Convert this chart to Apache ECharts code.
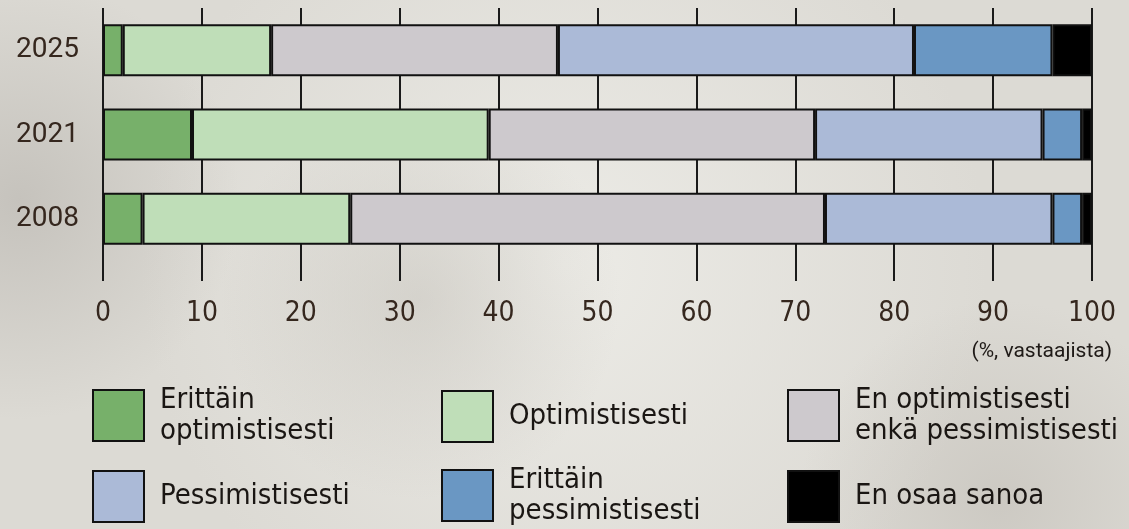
<!DOCTYPE html>
<html>
<head>
<meta charset="utf-8">
<script src="https://cdn.jsdelivr.net/npm/echarts@6/dist/echarts.min.js"></script>
<style>
html,body{margin:0;padding:0;background:#e6e4df;}
#chart{width:1129px;height:529px;}
</style>
</head>
<body>
<div id="chart"></div>
<script>
const years = ['2025', '2021', '2008'];
const seriesNames = ['Erittäin optimistisesti', 'Optimistisesti', 'En optimistisesti enkä pessimistisesti', 'Pessimistisesti', 'Erittäin pessimistisesti', 'En osaa sanoa'];
const legendLabels = ['Erittäin\noptimistisesti', 'Optimistisesti', 'En optimistisesti\nenkä pessimistisesti', 'Pessimistisesti', 'Erittäin\npessimistisesti', 'En osaa sanoa'];
const veryOptimistic = [2, 9, 4];
const optimistic = [15, 30, 21];
const neutral = [29, 33, 48];
const pessimistic = [36, 23, 23];
const veryPessimistic = [14, 4, 3];
const dontKnow = [4, 1, 1];
const xTicks = [0, 10, 20, 30, 40, 50, 60, 70, 80, 90, 100];
const colors = ['#77b06a', '#bfdeb8', '#cdc9cd', '#abbad7', '#6a97c3', '#000000'];

const values = [veryOptimistic, optimistic, neutral, pessimistic, veryPessimistic, dontKnow];
const textColor = '#35271e';
const condensed = "'DejaVu Sans Condensed', 'Liberation Sans Narrow', Roboto, sans-serif";

const chart = echarts.init(document.getElementById('chart'));

const series = seriesNames.map((n, i) => ({
  name: n,
  type: 'bar',
  stack: 'total',
  barWidth: 52,
  data: values[i],
  itemStyle: { color: colors[i], borderColor: '#111', borderWidth: 2 },
  emphasis: { disabled: true }
}));

const lineH = 31;
const legendCol = [92, 441, 787];
const legendRowCenter = [415.5, 495.5];
const legends = seriesNames.map((n, i) => {
  const lines = legendLabels[i].split('\n').length;
  const h = Math.max(51, lines * lineH);
  return {
    data: [n],
    left: legendCol[i % 3],
    top: legendRowCenter[Math.floor(i / 3)] - h / 2,
    itemWidth: 51,
    itemHeight: 51,
    itemGap: 0,
    icon: 'rect',
    selectedMode: false,
    padding: 0,
    formatter: () => legendLabels[i],
    textStyle: { color: '#1a1613', fontSize: 29, lineHeight: lineH, fontFamily: condensed, padding: [0, 0, 0, 11] }
  };
});

chart.setOption({
  backgroundColor: 'transparent',
  animation: false,
  graphic: [
    { type: 'rect', z: -10, shape: { x: 0, y: 0, width: 1129, height: 529 }, style: { fill: {
      type: 'radial', x: 0.5, y: 0.5, r: 0.8,
      colorStops: [{ offset: 0, color: '#ecebe6' }, { offset: 1, color: '#dcdad4' }] } }, silent: true },
    { type: 'circle', z: -9, shape: { cx: 20, cy: 200, r: 220 }, style: { fill: {
      type: 'radial', x: 0.5, y: 0.5, r: 0.5,
      colorStops: [{ offset: 0, color: 'rgba(170,166,160,0.45)' }, { offset: 1, color: 'rgba(170,166,160,0)' }] } }, silent: true },
    { type: 'circle', z: -9, shape: { cx: 420, cy: 300, r: 200 }, style: { fill: {
      type: 'radial', x: 0.5, y: 0.5, r: 0.5,
      colorStops: [{ offset: 0, color: 'rgba(180,176,168,0.35)' }, { offset: 1, color: 'rgba(180,176,168,0)' }] } }, silent: true },
    { type: 'circle', z: -9, shape: { cx: 1000, cy: 500, r: 200 }, style: { fill: {
      type: 'radial', x: 0.5, y: 0.5, r: 0.5,
      colorStops: [{ offset: 0, color: 'rgba(175,170,162,0.35)' }, { offset: 1, color: 'rgba(175,170,162,0)' }] } }, silent: true },
    { type: 'text', right: 17, top: 341, style: { text: '(%, vastaajista)', fill: '#1f1a17', fontSize: 21, fontFamily: 'Roboto, sans-serif' } }
  ],
  legend: legends,
  grid: { left: 103, right: 37, top: 8, bottom: 268, containLabel: false },
  xAxis: {
    type: 'value', min: 0, max: 100, interval: 10,
    axisLine: { show: false },
    axisTick: { show: true, length: 20, lineStyle: { color: '#1a1a1a', width: 2 } },
    splitLine: { show: true, lineStyle: { color: '#1a1a1a', width: 2 } },
    axisLabel: { color: textColor, fontSize: 28, fontFamily: condensed, margin: 39,
      formatter: v => xTicks.includes(v) ? String(v) : '' }
  },
  yAxis: {
    type: 'category', data: years, inverse: true,
    axisLine: { show: false }, axisTick: { show: false },
    axisLabel: { color: textColor, fontSize: 28, fontFamily: 'Roboto, sans-serif', margin: 24 }
  },
  series
});
</script>
</body>
</html>
